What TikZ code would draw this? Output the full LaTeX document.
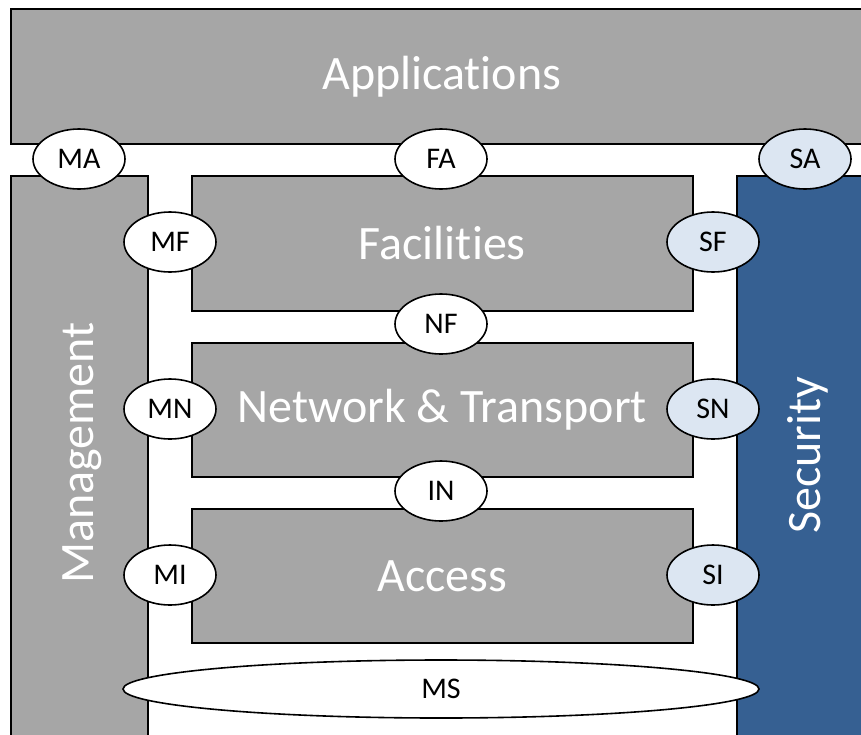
\documentclass[tikz,border=0pt]{standalone}
\usepackage{fontspec}
\setmainfont[Ligatures=NoCommon]{Carlito}
\usetikzlibrary{shapes.geometric}
\definecolor{boxgray}{HTML}{A6A6A6}
\definecolor{secblue}{HTML}{366092}
\definecolor{ovblue}{HTML}{DCE6F2}
\tikzset{
  layer/.style={draw=black, line width=1.6pt, fill=boxgray, rectangle, anchor=north west, inner sep=0pt,
    text=white, font=\fontsize{48}{50}\selectfont},
  iface/.style={draw=black, line width=1.6pt, fill=white, ellipse, inner sep=0pt,
    minimum width=92pt, minimum height=60pt, font=\fontsize{30}{31}\selectfont},
  siface/.style={iface, fill=ovblue},
}
\begin{document}
\begin{tikzpicture}[x=1pt,y=-1pt]
\useasboundingbox (0,0) rectangle (861,734);
\fill[white] (0,0) rectangle (861,734);
% layers
\node[layer, minimum width=862pt, minimum height=135pt] (app) at (10,8) {\raisebox{-3pt}{Applications}};
\node[layer, minimum width=137pt, minimum height=562pt] (mgmt) at (10,175) {};
\node[text=white, font=\fontsize{48}{50}\selectfont, rotate=90] (mgmtlbl) at (82,453) {Management};
\node[layer, fill=secblue, minimum width=130pt, minimum height=562pt] (sec) at (736,175) {};
\node[text=white, font=\fontsize{48}{50}\selectfont, rotate=90] (seclbl) at (808,455) {Security};
\node[layer, minimum width=501pt, minimum height=135pt] (fac) at (191,175) {Facilities};
\node[layer, minimum width=501pt, minimum height=134pt] (net) at (191,342) {Network \& Transport};
\node[layer, minimum width=501pt, minimum height=134pt] (acc) at (191,508) {Access};
% interfaces
\node[iface] (MA) at (79,159) {MA};
\node[iface] (FA) at (441,159) {FA};
\node[siface] (SA) at (805,159) {SA};
\node[iface] (MF) at (170,242) {MF};
\node[siface] (SF) at (713,242) {SF};
\node[iface] (NF) at (441,324) {NF};
\node[iface] (MN) at (170,409) {MN};
\node[siface] (SN) at (713,409) {SN};
\node[iface] (IN) at (441,491) {IN};
\node[iface] (MI) at (170,575) {MI};
\node[siface] (SI) at (713,575) {SI};
\node[iface, minimum width=636pt, minimum height=58pt] (MS) at (441,689) {MS};
\end{tikzpicture}
\end{document}
